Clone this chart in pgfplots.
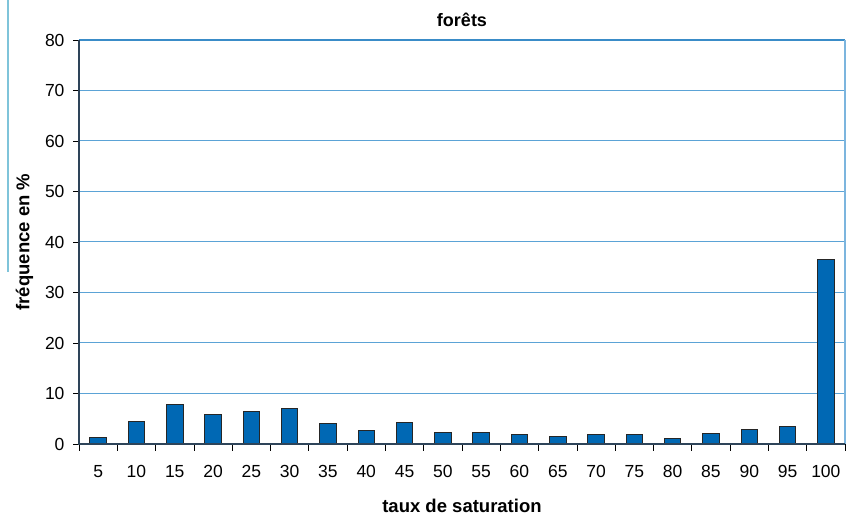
\documentclass[border=0pt]{standalone}
\usepackage{fontspec}
\setmainfont{Liberation Sans}
\usepackage{pgfplots}
\pgfplotsset{compat=1.18}
\definecolor{barblue}{HTML}{0068B4}
\definecolor{gridblue}{HTML}{5BA3D6}
\definecolor{topblue}{HTML}{3A8CC8}
\definecolor{axisdark}{HTML}{2E4459}
\definecolor{strayblue}{HTML}{7FC4DA}
\begin{document}
\begin{tikzpicture}
\useasboundingbox (-79pt,-77pt) rectangle (769pt,444pt);
\draw[strayblue, line width=1.5pt] (-71pt,444pt) -- (-71pt,172pt);
\begin{axis}[
  at={(0,0)}, anchor=south west,
  scale only axis, width=766pt, height=404pt,
  xmin=0.5, xmax=20.5, ymin=0, ymax=80,
  xtick={1,...,20},
  xticklabels={5,10,15,20,25,30,35,40,45,50,55,60,65,70,75,80,85,90,95,100},
  minor xtick={0.5,1.5,...,20.5},
  ytick={0,10,...,80},
  xtick pos=bottom, ytick pos=left,
  major x tick style={draw=none},
  minor x tick style={black, line width=0.8pt},
  minor tick length=7pt,
  major tick length=6pt,
  tick align=outside,
  y tick style={black, line width=0.8pt},
  ymajorgrids,
  grid style={gridblue, line width=1pt},
  axis line style={draw=none},
  tick label style={font=\fontsize{17.5}{20}\selectfont},
  xticklabel style={yshift=-12pt},
  yticklabel style={xshift=-5pt},
  /pgf/number format/assume math mode=true,
  title={\textbf{forêts}},
  title style={font=\fontsize{18}{21}\selectfont, yshift=4pt},
  xlabel={\textbf{taux de saturation}},
  xlabel style={font=\fontsize{18.5}{21}\selectfont, yshift=-14pt},
  ylabel={\textbf{fréquence en \%}},
  ylabel style={font=\fontsize{18.5}{21}\selectfont, yshift=5pt},
  clip=false,
]
\addplot[ybar, bar width=16.5pt, fill=barblue, draw=black!85, line width=0.9pt] coordinates {
(1,1.3) (2,4.5) (3,7.9) (4,5.9) (5,6.5) (6,7.1) (7,4.0) (8,2.6) (9,4.3) (10,2.3)
(11,2.3) (12,1.8) (13,1.5) (14,1.8) (15,1.8) (16,1.0) (17,2.0) (18,2.9) (19,3.4) (20,36.6)
};
\draw[topblue, line width=1.3pt] (rel axis cs:0,1) -- (rel axis cs:1,1);
\draw[gridblue!80, line width=1.2pt] (rel axis cs:1,1) -- (rel axis cs:1,0);
\draw[axisdark, line width=1.5pt] (rel axis cs:0,1) -- (rel axis cs:0,0) -- (rel axis cs:1,0);
\end{axis}
\end{tikzpicture}
\end{document}
